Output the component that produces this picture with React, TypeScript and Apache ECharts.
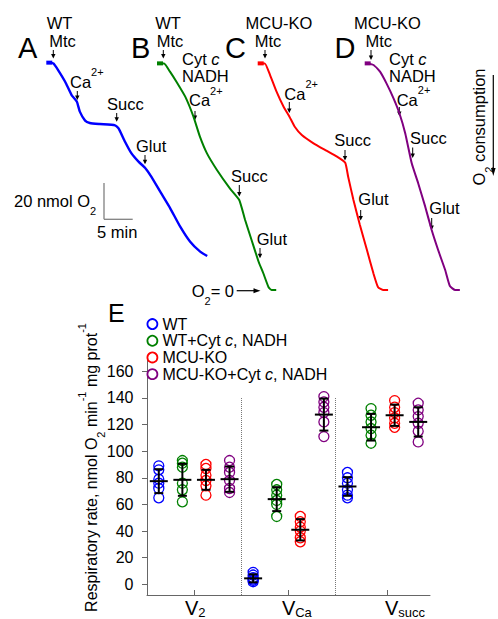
import React, { useEffect, useRef } from 'react';
import * as echarts from 'echarts';

const FONT = "'Liberation Sans', Arial, Helvetica, sans-serif";

// ---------- Panels A–D: O2 traces  [time (min), O2 remaining (nmol)] ----------
const traceWT = [
  [0, 126.3], [0.7, 125.9], [1.5, 122.2], [2.7, 115.7], [3.8, 108.3], [4.7, 104.6], [5.2, 99.1],
  [6.1, 94.1], [6.9, 92.8], [8.6, 92.2], [11.2, 91.5], [11.8, 89.8], [12.9, 82.4], [14.0, 75.9],
  [15.2, 71.3], [16.3, 67.9], [17.4, 62.9], [18.9, 54.6], [20.6, 45.4], [22.3, 35.2], [24.0, 26.8],
  [25.7, 21.3], [26.9, 18.9],
];
const traceWTCyt = [
  [0, 125.9], [0.7, 125.9], [1.7, 121.3], [2.8, 115.7], [4.3, 107.4], [5.7, 96.3], [6.8, 85.2],
  [8.0, 75.9], [9.7, 66.7], [11.9, 56.5], [13.5, 50.0], [14.5, 38.9], [15.6, 27.8], [16.8, 15.7],
  [17.6, 9.3], [18.5, 1.5], [19.0, 0], [19.8, 0],
];
const traceKO = [
  [0, 125.9], [0.7, 125.9], [1.6, 119.4], [2.7, 110.2], [3.9, 101.8], [4.9, 96.3], [5.8, 90.7],
  [7.0, 86.1], [9.0, 81.5], [11.2, 77.4], [13.0, 74.1], [14.4, 70.7], [14.9, 62.9], [15.8, 50.0],
  [16.9, 36.1], [18.1, 22.2], [19.2, 9.3], [20.0, 1.5], [20.9, 0], [21.7, 0],
];
const traceKOCyt = [
  [0, 125.9], [1.0, 125.0], [2.1, 121.3], [3.2, 114.8], [4.4, 106.5], [5.4, 98.2], [6.4, 87.0],
  [7.5, 70.4], [8.6, 59.3], [9.8, 46.3], [10.9, 33.3], [12.0, 22.2], [13.2, 11.1], [14.0, 2.2],
  [14.9, 0], [15.7, 0],
];

// ---------- Panel E: respiratory rates (nmol O2 / min / mg prot) ----------
const rateCategories = ['V2', 'VCa', 'Vsucc'];
const groupNames = ['WT', 'WT+Cyt c, NADH', 'MCU-KO', 'MCU-KO+Cyt c, NADH'];

const wtRates = [[89, 86, 79, 76, 72, 65], [9, 7, 5, 4, 3, 2], [84, 80, 76, 71, 67, 65]];
const wtCytRates = [[93, 91, 88, 76, 71, 62], [75, 71, 67, 63, 60, 51], [132, 127, 122, 117, 112, 106]];
const koRates = [[90, 87, 82, 78, 74, 67], [51, 47, 43, 40, 35, 32], [138, 133, 129, 125, 121, 118]];
const koCytRates = [[93, 88, 84, 78, 72, 69], [141, 137, 133, 129, 122, 111], [136, 131, 126, 121, 115, 107]];

const wtMean = [77.5, 4.5, 73.5];
const wtSd = [9, 3, 7];
const wtCytMean = [78.5, 64, 118];
const wtCytSd = [12, 9, 10];
const koMean = [78.5, 41, 127];
const koSd = [7.5, 8, 8];
const koCytMean = [79, 127.5, 122];
const koCytSd = [9.5, 12, 11];

const yTicks = [0, 20, 40, 60, 80, 100, 120, 140, 160];

// ---------- styling / layout ----------
const groupColors = ['#0000ff', '#008000', '#ff0000', '#800080'];
const traceColors = ['#0000ff', '#008000', '#ff0000', '#800080'];
const PX_PER_MIN = 5.87;
const PX_PER_NMOL = 1.8;
const TRACE_SPAN_MIN = 28;
const TRACE_MAX_NMOL = 130;
const panelLefts = [49.3, 160, 260.7, 367.7];

function richFor(fs: number, L: number) {
  return {
    n: { fontSize: fs, fontFamily: FONT, fill: '#000', color: '#000', lineHeight: L },
    i: { fontSize: fs, fontFamily: FONT, fontStyle: 'italic', fill: '#000', color: '#000', lineHeight: L },
    sup: { fontSize: 11, fontFamily: FONT, fill: '#000', color: '#000', lineHeight: L - 13, verticalAlign: 'top' },
    sub: { fontSize: 11, fontFamily: FONT, fill: '#000', color: '#000', lineHeight: L - 18, verticalAlign: 'bottom' },
  };
}

function txt(x: number, y: number, text: string, o: any = {}) {
  const fs = o.fs ?? 16.5;
  const align = o.align ?? 'left';
  return {
    type: 'text',
    x,
    y,
    rotation: o.rot ?? 0,
    silent: true,
    z: 10,
    style: {
      text,
      fontSize: fs,
      fontFamily: FONT,
      fill: '#000',
      textAlign: align,
      align,
      textVerticalAlign: 'middle',
      verticalAlign: 'middle',
      rich: richFor(fs, 30),
    },
  };
}

function arrowDown(x: number, y1: number, y2: number) {
  return [
    { type: 'line', silent: true, shape: { x1: x, y1, x2: x, y2: y2 - 2 }, style: { stroke: '#000', lineWidth: 1 } },
    {
      type: 'polygon',
      silent: true,
      shape: { points: [[x - 2.2, y2 - 4.5], [x + 2.2, y2 - 4.5], [x, y2]] },
      style: { fill: '#000' },
    },
  ];
}

const CA = '{n|Ca}{sup|2+}';
const CYT = '{n|Cyt }{i|c}';

export default function App() {
  const ref = useRef<HTMLDivElement>(null);

  useEffect(() => {
    if (!ref.current) return;
    const chart = echarts.init(ref.current, undefined, { renderer: 'svg' });

    const traces = [traceWT, traceWTCyt, traceKO, traceKOCyt];
    const groupRates = [wtRates, wtCytRates, koRates, koCytRates];
    const groupMeans = [wtMean, wtCytMean, koMean, koCytMean];
    const groupSds = [wtSd, wtCytSd, koSd, koCytSd];
    const nG = groupNames.length;

    const grids: any[] = panelLefts.map((l) => ({
      left: l,
      top: 290 - TRACE_MAX_NMOL * PX_PER_NMOL,
      width: TRACE_SPAN_MIN * PX_PER_MIN,
      height: TRACE_MAX_NMOL * PX_PER_NMOL,
      outerBoundsMode: 'none',
      containLabel: false,
    }));
    grids.push({ left: 147, top: 358, width: 283, height: 237, outerBoundsMode: 'none', containLabel: false });

    const xAxes: any[] = panelLefts.map((_, i) => ({
      gridIndex: i, type: 'value', min: 0, max: TRACE_SPAN_MIN, show: false,
    }));
    const yAxes: any[] = panelLefts.map((_, i) => ({
      gridIndex: i, type: 'value', min: 0, max: TRACE_MAX_NMOL, show: false,
    }));

    const xLabelOf = (v: number) => {
      const c = Math.min(rateCategories.length - 1, Math.floor(v / nG));
      const s = rateCategories[c].slice(1);
      return '{v|V}{s|' + s + '}';
    };

    xAxes.push({
      gridIndex: 4,
      type: 'value',
      min: 0,
      max: rateCategories.length * nG,
      axisLine: { show: true, onZero: false, lineStyle: { color: '#666', width: 1 } },
      axisTick: { show: true, inside: true, length: 5, customValues: [2, 6, 10.2], lineStyle: { color: '#666' } },
      axisLabel: {
        show: true,
        customValues: [1.61, 5.72, 10.09],
        align: 'left',
        margin: 2.5,
        formatter: (v: number) => xLabelOf(v),
        rich: {
          v: { fontSize: 20, fontFamily: FONT, color: '#000', lineHeight: 21 },
          s: { fontSize: 13, fontFamily: FONT, color: '#000', lineHeight: 15, verticalAlign: 'bottom' },
        },
      },
      splitLine: { show: false },
    });
    yAxes.push({
      gridIndex: 4,
      type: 'value',
      min: -8,
      max: 170,
      axisLine: { show: true, onZero: false, lineStyle: { color: '#666', width: 1 } },
      axisTick: { show: true, length: 5, customValues: yTicks, lineStyle: { color: '#666' } },
      axisLabel: { show: true, customValues: yTicks, margin: 13.5, fontSize: 16, fontFamily: FONT, color: '#000' },
      splitLine: { show: false },
    });

    const series: any[] = traces.map((tr, i) => ({
      type: 'line',
      xAxisIndex: i,
      yAxisIndex: i,
      silent: true,
      symbol: 'none',
      smooth: 0.15,
      clip: false,
      lineStyle: { color: traceColors[i], width: i === 0 ? 2.4 : 2 },
      data: tr.map((p, k) =>
        k === 0 ? { value: p, symbol: 'rect', symbolSize: [6, 4], itemStyle: { color: traceColors[i] } } : p
      ),
    }));

    groupNames.forEach((name, g) => {
      series.push({
        type: 'scatter',
        name,
        xAxisIndex: 4,
        yAxisIndex: 4,
        silent: true,
        symbol: 'circle',
        symbolSize: 10,
        z: 2,
        itemStyle: { color: 'rgba(0,0,0,0)', borderColor: groupColors[g], borderWidth: 1.3, opacity: 1 },
        data: rateCategories.flatMap((_, c) => groupRates[g][c].map((v) => [c * nG + g + 0.5, v])),
        markLine:
          g === 0
            ? {
                silent: true,
                symbol: 'none',
                label: { show: false },
                lineStyle: { type: 'dotted', color: '#777', width: 1 },
                data: [1, 2].map((k) => [{ coord: [k * nG, -8] }, { coord: [k * nG, 140.5] }]),
              }
            : undefined,
      });
    });

    series.push({
      type: 'custom',
      name: 'mean ± SD',
      xAxisIndex: 4,
      yAxisIndex: 4,
      silent: true,
      z: 5,
      data: groupNames.flatMap((_, g) =>
        rateCategories.map((_, c) => [c * nG + g + 0.5, groupMeans[g][c], groupSds[g][c]])
      ),
      renderItem: (params: any, api: any) => {
        const x = api.value(0);
        const m = api.value(1);
        const s = api.value(2);
        const c = api.coord([x, m]);
        const yt = api.coord([x, m + s])[1];
        const yb = api.coord([x, m - s])[1];
        const st = { stroke: '#000', lineWidth: 2 };
        return {
          type: 'group',
          children: [
            { type: 'line', shape: { x1: c[0], y1: yt, x2: c[0], y2: yb }, style: st },
            { type: 'line', shape: { x1: c[0] - 4.5, y1: yt, x2: c[0] + 4.5, y2: yt }, style: st },
            { type: 'line', shape: { x1: c[0] - 4.5, y1: yb, x2: c[0] + 4.5, y2: yb }, style: st },
            { type: 'line', shape: { x1: c[0] - 9, y1: c[1], x2: c[0] + 9, y2: c[1] }, style: st },
          ],
        };
      },
    });

    const legendLabel = (name: string) => '{n|' + name.replace('Cyt c', 'Cyt }{i|c}{n|') + '}';

    const graphic: any[] = [
      // panel letters
      txt(18, 48, 'A', { fs: 29 }),
      txt(131, 48, 'B', { fs: 29 }),
      txt(225, 48, 'C', { fs: 29 }),
      txt(334.5, 48, 'D', { fs: 29 }),
      txt(108, 313.3, 'E', { fs: 25 }),
      // A
      txt(59.5, 23.3, 'WT', { align: 'center' }),
      txt(62.5, 41.3, 'Mtc', { align: 'center' }),
      txt(70, 81.6, CA),
      txt(107, 104.3, 'Succ'),
      txt(136, 146, 'Glut'),
      ...arrowDown(53.3, 50, 58.5),
      ...arrowDown(77.3, 91, 100),
      ...arrowDown(116.7, 113, 121.7),
      ...arrowDown(145, 155, 164.3),
      txt(14, 201, '{n|20 nmol O}{sub|2}'),
      txt(97, 231.6, '5 min'),
      { type: 'line', silent: true, shape: { x1: 104, y1: 183, x2: 104, y2: 219.3 }, style: { stroke: '#808080', lineWidth: 1.3 } },
      { type: 'line', silent: true, shape: { x1: 104, y1: 219.3, x2: 132.7, y2: 219.3 }, style: { stroke: '#808080', lineWidth: 1.3 } },
      // B
      txt(168, 23.3, 'WT', { align: 'center' }),
      txt(170, 41.3, 'Mtc', { align: 'center' }),
      txt(182, 59.3, CYT),
      txt(182, 76, 'NADH'),
      txt(189, 100.3, CA),
      txt(231, 176, 'Succ'),
      txt(256.7, 239.3, 'Glut'),
      ...arrowDown(163.3, 50, 58.5),
      ...arrowDown(195, 111, 120),
      ...arrowDown(239.3, 185, 196.5),
      ...arrowDown(260, 248, 258.3),
      txt(191.7, 291, '{n|O}{sub|2}{n|= 0}'),
      { type: 'line', silent: true, shape: { x1: 236.7, y1: 290.7, x2: 257, y2: 290.7 }, style: { stroke: '#000', lineWidth: 1.2 } },
      { type: 'polygon', silent: true, shape: { points: [[253.5, 288.2], [253.5, 293.2], [260.5, 290.7]] }, style: { fill: '#000' } },
      // C
      txt(279, 23.3, 'MCU-KO', { align: 'center' }),
      txt(268, 41.3, 'Mtc', { align: 'center' }),
      txt(284.3, 93.6, CA),
      txt(334.3, 140, 'Succ'),
      txt(358.3, 199.3, 'Glut'),
      ...arrowDown(265, 50, 58.5),
      ...arrowDown(289.3, 102, 113),
      ...arrowDown(345, 150, 160.5),
      ...arrowDown(360.7, 210, 220.5),
      // D
      txt(387.5, 23.3, 'MCU-KO', { align: 'center' }),
      txt(378.7, 41.3, 'Mtc', { align: 'center' }),
      txt(389, 58.8, CYT),
      txt(389, 75.5, 'NADH'),
      txt(396.7, 99.8, CA),
      txt(410, 138, 'Succ'),
      txt(429.3, 207.6, 'Glut'),
      ...arrowDown(371, 50, 60),
      ...arrowDown(399.3, 107, 116),
      ...arrowDown(412.7, 147.5, 158),
      ...arrowDown(431.7, 218, 230),
      // O2 consumption
      txt(479.3, 127, '{n|O}{sub|2}{n| consumption}', { align: 'center', rot: Math.PI / 2 }),
      { type: 'line', silent: true, shape: { x1: 493.3, y1: 75, x2: 493.3, y2: 172 }, style: { stroke: '#000', lineWidth: 1.2 } },
      { type: 'polygon', silent: true, shape: { points: [[491, 168], [495.6, 168], [493.3, 176]] }, style: { fill: '#000' } },
      // y axis title of E
      txt(91.2, 467.5, '{n|Respiratory rate, nmol O}{sub|2}{n| min}{sup|-1}{n| mg prot}{sup|-1}', {
        fs: 16,
        align: 'center',
        rot: Math.PI / 2,
      }),
    ];

    chart.setOption({
      animation: false,
      backgroundColor: '#fff',
      textStyle: { fontFamily: FONT },
      grid: grids,
      xAxis: xAxes,
      yAxis: yAxes,
      legend: {
        show: true,
        data: groupNames.map((name, g) => ({
          name,
          icon: 'circle',
          itemStyle: { color: 'rgba(0,0,0,0)', borderColor: groupColors[g], borderWidth: 1.8 },
        })),
        orient: 'vertical',
        left: 146.5,
        top: 315.7,
        padding: 0,
        itemWidth: 10,
        itemHeight: 10,
        itemGap: 0,
        selectedMode: false,
        formatter: legendLabel,
        textStyle: {
          fontSize: 16,
          fontFamily: FONT,
          color: '#000',
          lineHeight: 16.7,
          rich: {
            n: { fontSize: 16, fontFamily: FONT, color: '#000', lineHeight: 16.7 },
            i: { fontSize: 16, fontFamily: FONT, fontStyle: 'italic', color: '#000', lineHeight: 16.7 },
          },
        },
      },
      series,
      graphic,
    });

    return () => chart.dispose();
  }, []);

  return (
    <div
      ref={ref}
      style={{ position: 'fixed', left: 0, top: 0, width: 498, height: 619, background: '#fff' }}
    />
  );
}
